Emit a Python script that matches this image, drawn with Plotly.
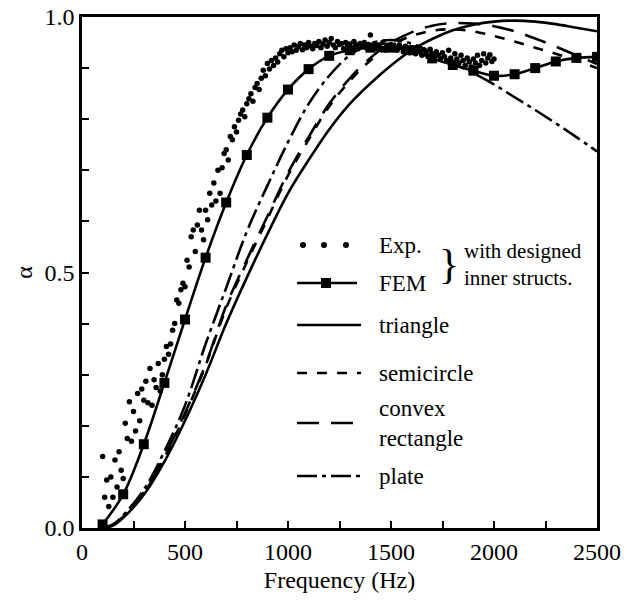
import plotly.graph_objects as go

# ---------------- data ----------------
exp_freq = list(range(100, 2001, 10))
exp_alpha = [
    0.14, 0.06, 0.094, 0.042, 0.10, 0.06, 0.133, 0.08, 0.149, 0.113,
    0.097, 0.205, 0.175, 0.247, 0.17, 0.228, 0.19, 0.263, 0.21, 0.272,
    0.25, 0.287, 0.245, 0.312, 0.24, 0.29, 0.275, 0.322, 0.268, 0.30,
    0.33, 0.355, 0.34, 0.36, 0.387, 0.40, 0.446, 0.44, 0.466, 0.479,
    0.472, 0.524, 0.511, 0.57, 0.583, 0.541, 0.593, 0.622, 0.583, 0.564,
    0.622, 0.603, 0.655, 0.632, 0.675, 0.64, 0.70, 0.655, 0.705, 0.733,
    0.74, 0.72, 0.766, 0.76, 0.785, 0.775, 0.798, 0.81, 0.818, 0.805,
    0.83, 0.84, 0.85, 0.835, 0.862, 0.87, 0.858, 0.88, 0.896, 0.885,
    0.909, 0.898, 0.915, 0.905, 0.92, 0.912, 0.928, 0.935, 0.922, 0.938,
    0.93, 0.94, 0.932, 0.945, 0.935, 0.942, 0.948, 0.936, 0.945, 0.94,
    0.95, 0.943, 0.938, 0.948, 0.944, 0.952, 0.94, 0.947, 0.955, 0.943,
    0.95, 0.958, 0.945, 0.94, 0.952, 0.946, 0.948, 0.938, 0.95, 0.944,
    0.947, 0.94, 0.952, 0.945, 0.938, 0.948, 0.943, 0.95, 0.94, 0.946,
    0.965, 0.942, 0.948, 0.938, 0.945, 0.94, 0.95, 0.935, 0.944, 0.94,
    0.946, 0.937, 0.942, 0.935, 0.945, 0.94, 0.932, 0.943, 0.938, 0.93,
    0.94, 0.935, 0.928, 0.938, 0.932, 0.925, 0.936, 0.93, 0.922, 0.937,
    0.928, 0.92, 0.932, 0.925, 0.918, 0.93, 0.922, 0.915, 0.935, 0.92,
    0.912, 0.928, 0.918, 0.91, 0.925, 0.915, 0.905, 0.92, 0.912, 0.902,
    0.918, 0.91, 0.925, 0.905, 0.915, 0.928, 0.91, 0.92, 0.926, 0.913,
    0.918,
]

fem_freq = [100, 200, 300, 400, 500, 600, 700, 800, 900, 1000, 1100, 1200,
            1300, 1400, 1500, 1600, 1700, 1800, 1900, 2000, 2100, 2200, 2300,
            2400, 2500]
fem_alpha = [0.007, 0.066, 0.164, 0.284, 0.408, 0.529, 0.637, 0.730, 0.803,
             0.858, 0.898, 0.924, 0.935, 0.940, 0.940, 0.935, 0.919, 0.906,
             0.895, 0.885, 0.888, 0.900, 0.913, 0.920, 0.922]

theory_freq = [100, 150, 200, 300, 400, 500, 600, 700, 800, 900, 1000, 1100,
               1200, 1300, 1400, 1500, 1600, 1700, 1800, 1900, 2000, 2100,
               2200, 2300, 2400, 2500]
triangle_alpha = [0.0, 0.005, 0.02, 0.065, 0.13, 0.21, 0.30, 0.40, 0.49,
                  0.575, 0.655, 0.72, 0.78, 0.83, 0.87, 0.905, 0.935, 0.957,
                  0.974, 0.985, 0.991, 0.993, 0.991, 0.986, 0.979, 0.972]
semicircle_alpha = [0.0, 0.006, 0.022, 0.068, 0.138, 0.222, 0.318, 0.43,
                    0.52, 0.605, 0.69, 0.76, 0.825, 0.875, 0.915, 0.945,
                    0.963, 0.973, 0.976, 0.972, 0.963, 0.952, 0.94, 0.928,
                    0.915, 0.90]
convex_alpha = [0.0, 0.006, 0.022, 0.07, 0.14, 0.225, 0.32, 0.435, 0.525,
                0.61, 0.695, 0.765, 0.83, 0.88, 0.92, 0.95, 0.97, 0.983,
                0.988, 0.987, 0.982, 0.972, 0.958, 0.942, 0.925, 0.908]
plate_alpha = [0.0, 0.007, 0.025, 0.075, 0.15, 0.24, 0.36, 0.47, 0.58, 0.67,
               0.755, 0.83, 0.885, 0.925, 0.948, 0.955, 0.948, 0.93, 0.91,
               0.89, 0.868, 0.843, 0.818, 0.792, 0.765, 0.737]

x_ticks = [0, 500, 1000, 1500, 2000, 2500]
y_ticks = [0.0, 0.5, 1.0]

legend_labels = ["Exp.", "FEM", "triangle", "semicircle",
                 "convex<br>rectangle", "plate"]
brace_text = "with designed<br>inner structs."

# ---------------- figure ----------------
FONT = "Times New Roman, Liberation Serif, DejaVu Serif, serif"
LW = 2.6
fig = go.Figure()

fig.add_trace(go.Scatter(x=exp_freq, y=exp_alpha, mode="markers",
                         marker=dict(color="black", size=5.5),
                         showlegend=False))
fig.add_trace(go.Scatter(x=fem_freq, y=fem_alpha, mode="lines+markers",
                         line=dict(color="black", width=LW),
                         marker=dict(symbol="square", size=10, color="black"),
                         line_shape="spline", showlegend=False))
styles = [
    (triangle_alpha, "solid"),
    (semicircle_alpha, "10px,10px"),
    (convex_alpha, "22px,12px"),
    (plate_alpha, "20px,5px,4px,5px"),
]
for vals, dash in styles:
    fig.add_trace(go.Scatter(x=theory_freq, y=vals, mode="lines",
                             line=dict(color="black", width=LW, dash=dash,
                                       shape="spline"),
                             showlegend=False))

# ---- legend drawn in a pixel-like overlay axis ----
leg_y = [245, 283, 325, 373, 423, 476]
x_l0, x_l1 = 297, 357
fig.add_trace(go.Scatter(x=[303, 324, 346], y=[leg_y[0]] * 3, mode="markers",
                         marker=dict(color="black", size=6),
                         xaxis="x2", yaxis="y2", showlegend=False))
fig.add_trace(go.Scatter(x=[x_l0, x_l1], y=[leg_y[1]] * 2, mode="lines",
                         line=dict(color="black", width=LW),
                         xaxis="x2", yaxis="y2", showlegend=False))
fig.add_trace(go.Scatter(x=[326], y=[leg_y[1]], mode="markers",
                         marker=dict(symbol="square", size=10, color="black"),
                         xaxis="x2", yaxis="y2", showlegend=False))
for yy, (_, dash) in zip(leg_y[2:], styles):
    fig.add_trace(go.Scatter(x=[x_l0, x_l1 + 4], y=[yy, yy], mode="lines",
                             line=dict(color="black", width=LW, dash=dash),
                             xaxis="x2", yaxis="y2", showlegend=False))

for yy, lab in zip(leg_y, legend_labels):
    fig.add_annotation(x=377, y=yy, xref="x2", yref="y2", text=lab,
                       showarrow=False, xanchor="left", yanchor="middle",
                       align="left",
                       font=dict(family=FONT, size=23, color="black"))
fig.add_annotation(x=449, y=264, xref="x2", yref="y2", text="}",
                   showarrow=False, xanchor="center", yanchor="middle",
                   font=dict(family=FONT, size=42, color="black"))
fig.add_annotation(x=462, y=264, xref="x2", yref="y2", text=brace_text,
                   showarrow=False, xanchor="left", yanchor="middle",
                   align="left",
                   font=dict(family=FONT, size=21, color="black"))

axis_common = dict(showgrid=False, zeroline=False, showline=True,
                   linecolor="black", linewidth=2.5, mirror=True,
                   ticks="inside", tickcolor="black", tickwidth=2,
                   ticklen=7, automargin=False,
                   tickfont=dict(family=FONT, size=24, color="black"))

fig.update_layout(
    width=625, height=604,
    font=dict(family=FONT, color="black"),
    margin=dict(l=82, r=28, t=17, b=76),
    plot_bgcolor="white", paper_bgcolor="white",
    xaxis=dict(range=[0, 2500], tickvals=x_ticks,
               ticktext=[str(v) for v in x_ticks],
               minor=dict(dtick=250, ticks="inside", ticklen=7,
                          tickwidth=2, tickcolor="black"),
               title=dict(text="Frequency (Hz)", standoff=8,
                          font=dict(family=FONT, size=24, color="black")),
               **axis_common),
    yaxis=dict(range=[0, 1], tickvals=y_ticks,
               ticktext=["%.1f" % v for v in y_ticks],
               minor=dict(dtick=0.1, ticks="inside", ticklen=7,
                          tickwidth=2, tickcolor="black"),
               title=dict(text="α", standoff=6,
                          font=dict(family=FONT, size=24, color="black")),
               **axis_common),
    xaxis2=dict(range=[82, 597], overlaying="x", visible=False),
    yaxis2=dict(range=[528, 17], overlaying="y", visible=False),
)

fig.write_html("out.html",
               config={"displayModeBar": False},
               post_script="document.body.style.margin='0';")
